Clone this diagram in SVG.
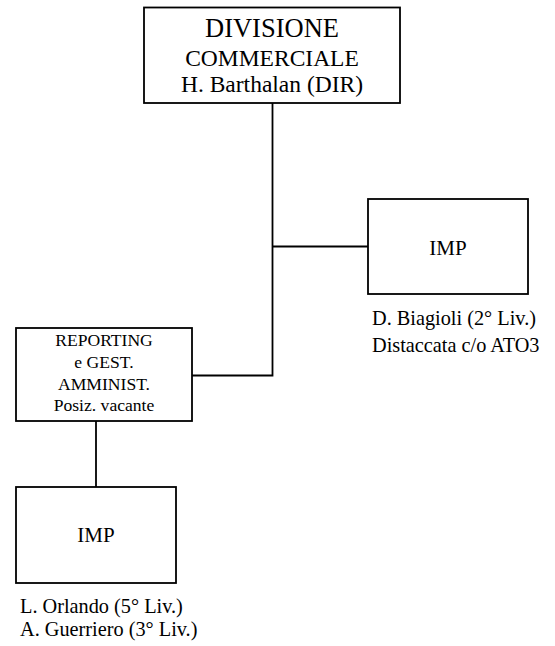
<svg xmlns="http://www.w3.org/2000/svg" width="555" height="646" viewBox="0 0 555 646">
<style>
.box{fill:#fff;stroke:#000;stroke-width:1.8}
.ln{fill:none;stroke:#000;stroke-width:1.8}
text{font-family:"Liberation Serif","Times New Roman",serif;fill:#000}
.c{text-anchor:middle}
.lbl{font-size:20.3px}
.imp{font-size:21px}
.rep{font-size:17.6px}
</style>
<rect width="555" height="646" fill="#fff"/>
<g id="connectors">
<path class="ln" d="M272.5 103V375.5H192"/>
<path class="ln" d="M272.5 246.5H368"/>
<path class="ln" d="M96 421V487"/>
</g>
<g id="divisione">
<rect class="box" x="144" y="7.5" width="256" height="95.5"/>
<text class="c" x="272" y="37" font-size="26.5">DIVISIONE</text>
<text class="c" x="272" y="66" font-size="23.5">COMMERCIALE</text>
<text class="c" x="272" y="92" font-size="23.5">H. Barthalan (DIR)</text>
</g>
<g id="imp1">
<rect class="box" x="368" y="199" width="160" height="95"/>
<text class="c imp" x="448" y="255">IMP</text>
<text class="lbl" x="372" y="325">D. Biagioli (2° Liv.)</text>
<text class="lbl" x="372" y="352">Distaccata c/o ATO3</text>
</g>
<g id="reporting">
<rect class="box" x="16" y="328" width="176" height="93"/>
<text class="c rep" x="104" y="346">REPORTING</text>
<text class="c rep" x="104" y="368">e GEST.</text>
<text class="c rep" x="104" y="390">AMMINIST.</text>
<text class="c rep" x="104" y="411">Posiz. vacante</text>
</g>
<g id="imp2">
<rect class="box" x="16" y="487" width="160" height="96"/>
<text class="c imp" x="96" y="542">IMP</text>
<text class="lbl" x="20" y="613">L. Orlando (5° Liv.)</text>
<text class="lbl" x="20" y="636">A. Guerriero (3° Liv.)</text>
</g>
</svg>
